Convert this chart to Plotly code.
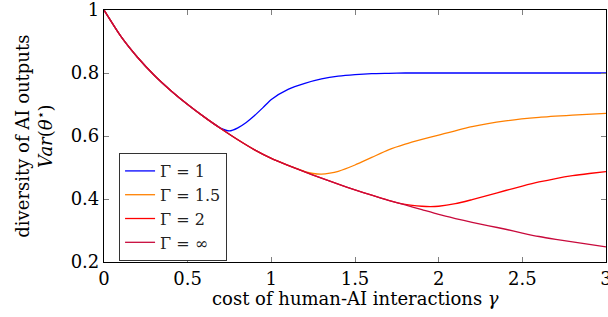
import plotly.graph_objects as go

# ---- data ----
gamma_inf = [0.0, 0.1, 0.2, 0.3, 0.4, 0.5, 0.6, 0.7, 0.8, 0.9, 1.0, 1.1, 1.2, 1.3, 1.4, 1.5,
             1.6, 1.7, 1.8, 1.9, 2.0, 2.1, 2.2, 2.3, 2.4, 2.5, 2.6, 2.7, 2.8, 2.9, 3.0]
var_inf = [1.000, 0.917, 0.850, 0.793, 0.744, 0.700, 0.660, 0.623, 0.588, 0.556, 0.529, 0.507,
           0.486, 0.466, 0.447, 0.429, 0.412, 0.396, 0.381, 0.366, 0.351, 0.338, 0.326, 0.315,
           0.304, 0.292, 0.281, 0.272, 0.264, 0.256, 0.248]

gamma_1 = [0.0, 0.1, 0.2, 0.3, 0.4, 0.5, 0.6, 0.65, 0.7, 0.75, 0.8, 0.85, 0.9, 0.95, 1.0,
           1.1, 1.2, 1.3, 1.4, 1.5, 1.6, 1.7, 1.8, 1.9, 2.0, 2.5, 3.0]
var_1 = [1.000, 0.917, 0.850, 0.793, 0.744, 0.700, 0.660, 0.641, 0.624, 0.616, 0.626, 0.643,
         0.665, 0.690, 0.716, 0.748, 0.767, 0.781, 0.790, 0.795, 0.798, 0.799, 0.800, 0.800,
         0.800, 0.800, 0.800]

gamma_15 = [0.0, 0.1, 0.2, 0.3, 0.4, 0.5, 0.6, 0.7, 0.8, 0.9, 1.0, 1.1, 1.15, 1.2, 1.25, 1.3,
            1.35, 1.4, 1.5, 1.6, 1.7, 1.8, 1.9, 2.0, 2.2, 2.4, 2.6, 2.8, 3.0]
var_15 = [1.000, 0.917, 0.850, 0.793, 0.744, 0.700, 0.660, 0.623, 0.588, 0.556, 0.529, 0.507,
          0.497, 0.487, 0.481, 0.479, 0.482, 0.488, 0.508, 0.532, 0.556, 0.574, 0.589, 0.603,
          0.630, 0.648, 0.659, 0.666, 0.672]

gamma_2 = [0.0, 0.1, 0.2, 0.3, 0.4, 0.5, 0.6, 0.7, 0.8, 0.9, 1.0, 1.1, 1.2, 1.3, 1.4, 1.5,
           1.6, 1.7, 1.8, 1.9, 1.95, 2.0, 2.1, 2.2, 2.3, 2.4, 2.5, 2.6, 2.7, 2.8, 2.9, 3.0]
var_2 = [1.000, 0.917, 0.850, 0.793, 0.744, 0.700, 0.660, 0.623, 0.588, 0.556, 0.529, 0.507,
         0.486, 0.466, 0.447, 0.429, 0.412, 0.396, 0.383, 0.377, 0.376, 0.377, 0.385, 0.398,
         0.412, 0.427, 0.441, 0.454, 0.465, 0.474, 0.481, 0.487]

series_names = ["Γ = 1", "Γ = 1.5", "Γ = 2", "Γ = ∞"]
series_colors = ["#0000ff", "#ff8000", "#ff0000", "#c80a3c"]

x_ticks = [0, 0.5, 1, 1.5, 2, 2.5, 3]
x_tick_labels = ["0", "0.5", "1", "1.5", "2", "2.5", "3"]
y_ticks = [0.2, 0.4, 0.6, 0.8, 1.0]
y_tick_labels = ["0.2", "0.4", "0.6", "0.8", "1"]

x_title = "cost of human-AI interactions <i>γ</i>"
y_title = "diversity of AI outputs<br><i>Var</i>(<i>θ</i><sup>⋆</sup>)"

FONT = "DejaVu Serif"

fig = go.Figure()
for xs, ys, name, col in zip([gamma_1, gamma_15, gamma_2, gamma_inf],
                             [var_1, var_15, var_2, var_inf],
                             series_names, series_colors):
    fig.add_trace(go.Scatter(x=xs, y=ys, mode="lines", name=name,
                             line=dict(color=col, width=1.3, shape="spline", smoothing=0.6)))

axis_common = dict(showgrid=False, zeroline=False, showline=True, linecolor="black",
                   linewidth=1.2, mirror="ticks", ticks="inside", ticklen=5,
                   tickcolor="#808080", tickwidth=1, automargin=False,
                   ticklabeloverflow="allow",
                   tickfont=dict(family=FONT, size=18, color="black"))

fig.update_xaxes(range=[0, 3], tickvals=x_ticks, ticktext=x_tick_labels, **axis_common)
fig.update_yaxes(range=[0.2, 1.0], tickvals=y_ticks, ticktext=y_tick_labels, **axis_common)

fig.add_annotation(text=x_title, xref="paper", yref="paper", x=0.5, y=-0.143,
                   xanchor="center", yanchor="middle", showarrow=False,
                   font=dict(family=FONT, size=18, color="black"))
fig.add_annotation(text=y_title, xref="paper", yref="paper", x=-0.14, y=0.5,
                   xanchor="center", yanchor="middle", showarrow=False, textangle=-90,
                   font=dict(family=FONT, size=18, color="black"))

fig.update_layout(
    width=608, height=317,
    margin=dict(l=104, r=2, t=10, b=55),
    paper_bgcolor="white", plot_bgcolor="white",
    font=dict(family=FONT, size=18, color="black"),
    legend=dict(x=0.03, y=0.4325, xanchor="left", yanchor="top",
                bgcolor="white", bordercolor="#333333", borderwidth=1,
                font=dict(family=FONT, size=16, color="#222222"),
                tracegroupgap=0, itemwidth=30),
    showlegend=True,
)

# remove the default page margin so the figure sits at the window's top-left corner
fig.write_html("out.html", config={"displayModeBar": False},
               post_script="document.body.style.margin='0';document.body.style.overflow='hidden';")
